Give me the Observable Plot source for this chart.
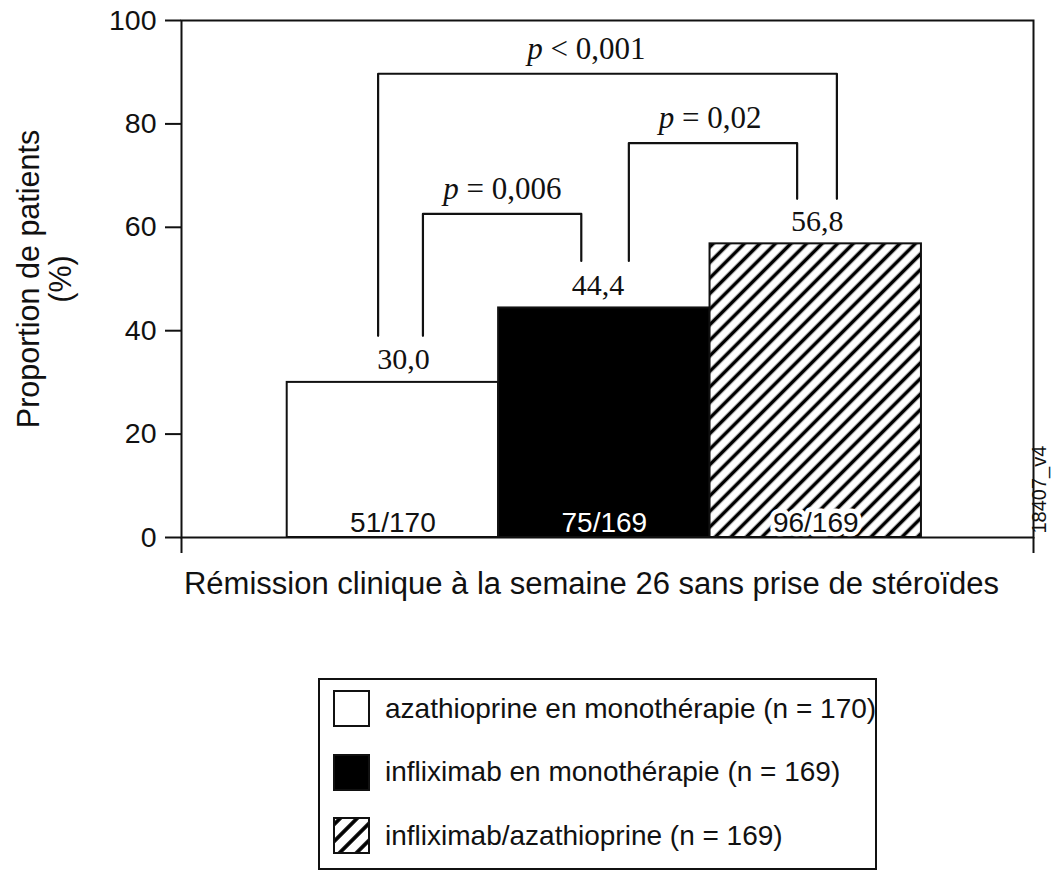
<!DOCTYPE html>
<html><head><meta charset="utf-8">
<script src="https://cdn.jsdelivr.net/npm/d3@7"></script>
<script src="https://cdn.jsdelivr.net/npm/@observablehq/plot@0.6"></script>
<style>
body{margin:0;background:#fff;font-family:"Liberation Sans",Arial,sans-serif;}
#wrap{position:relative;width:1052px;height:871px;overflow:hidden;}
#legend{position:absolute;left:318px;top:678px;width:559px;height:192px;border:2px solid #111;box-sizing:border-box;background:#fff;}
.row{position:absolute;left:13px;display:flex;align-items:center;height:37px;}
.row svg{width:37px;height:37px;flex:none;display:block}
.row span{margin-left:15px;font-size:28px;color:#111;white-space:nowrap;}
</style></head><body><div id="wrap"><div id="chart"></div><div id="legend"></div></div>
<script>
// ---- data ----
const categories = ["azathioprine en monothérapie (n = 170)", "infliximab en monothérapie (n = 169)", "infliximab/azathioprine (n = 169)"];
const values = [30.0, 44.4, 56.8];
const responders = [51, 75, 96];
const totals = [170, 169, 169];
const yTicks = [0, 20, 40, 60, 80, 100];
const pLabels = ["p < 0,001", "p = 0,02", "p = 0,006"];
const bracketLeft = [0.93, 2.116, 1.142];
const bracketRight = [3.10, 2.912, 1.891];
const bracketTop = [89.7, 76.3, 62.6];
const bracketLeftEnd = [39, 53.5, 39];
const bracketRightEnd = [65.5, 65.5, 53.5];
const pLabelX = [1.915, 2.50, 1.518];
const valueLabelX = [1.05, 1.97, 3.007];
const xTitle = "Rémission clinique à la semaine 26 sans prise de stéroïdes";
const yTitle = "Proportion de patients\n(%)";
const figId = "18407_v4";

// ---- styles ----
const sans = '"Liberation Sans", Arial, sans-serif';
const serif = '"Liberation Serif", "Times New Roman", serif';
const ink = "#111";
const barFills = ["white", "#000", "url(#hatch)"];
const countFills = [ink, "white", ink];
const xMax = 4.03;

const bars = categories.map((c, i) => ({
  i, cat: c, value: values[i],
  x1: i + 0.5, x2: i + 1.5, xc: i + 1,
  lx: valueLabelX[i],
  vlabel: values[i].toFixed(1).replace(".", ","),
  count: `${responders[i]}/${totals[i]}`
}));
const bracketPts = pLabels.flatMap((p, i) => [
  {id: i, x: bracketLeft[i], y: bracketLeftEnd[i]},
  {id: i, x: bracketLeft[i], y: bracketTop[i]},
  {id: i, x: bracketRight[i], y: bracketTop[i]},
  {id: i, x: bracketRight[i], y: bracketRightEnd[i]}
]);
const pData = pLabels.map((t, i) => ({t, x: pLabelX[i], y: bracketTop[i]}));

const barMarks = bars.flatMap((b) => [
  Plot.rectY([b], {x1: "x1", x2: "x2", y1: 0, y2: "value", fill: barFills[b.i], stroke: ink, strokeWidth: 2}),
  Plot.text([b], {x: "xc", y: 0, text: "count", lineAnchor: "bottom", dy: -6, fontSize: 28, fontFamily: sans,
    fill: countFills[b.i], ...(b.i === 2 ? {stroke: "white", strokeWidth: 9, paintOrder: "stroke"} : {})})
]);

const chart = Plot.plot({
  width: 1052, height: 640,
  marginLeft: 181, marginRight: 19, marginTop: 20, marginBottom: 103,
  x: {domain: [0, xMax]},
  y: {domain: [0, 100]},
  style: {fontFamily: sans, color: ink, background: "white"},
  marks: [
    ...barMarks,
    Plot.frame({stroke: ink, strokeWidth: 2}),
    Plot.axisY({ticks: yTicks, tickSize: 16, tickPadding: 9, fontSize: 28.5, strokeWidth: 2, label: null}),
    Plot.axisX({ticks: [0, xMax], tickSize: 16, tickFormat: () => "", strokeWidth: 2, label: null}),
    Plot.text(bars, {x: "lx", y: "value", text: "vlabel", lineAnchor: "bottom", dy: -13, fontSize: 30, fontFamily: serif}),
    Plot.line(bracketPts, {x: "x", y: "y", z: "id", stroke: ink, strokeWidth: 2.2}),
    Plot.text(pData, {x: "x", y: "y", text: "t", lineAnchor: "bottom", dy: -15, fontSize: 31, fontFamily: serif}),
    Plot.text([xTitle], {frameAnchor: "bottom", dx: -16, dy: 56, fontSize: 31, fontFamily: sans}),
    Plot.text([yTitle], {frameAnchor: "left", dx: -137, rotate: -90, textAnchor: "middle", lineAnchor: "middle", fontSize: 30.5, lineHeight: 1.05, fontFamily: sans}),
    Plot.text([figId], {frameAnchor: "bottom-right", dx: 12, dy: -4, rotate: -90, textAnchor: "start", fontSize: 20, fontFamily: sans})
  ]
});

// pattern defs
const defs = d3.select(chart).insert("defs", ":first-child");
const pat = defs.append("pattern").attr("id", "hatch").attr("patternUnits", "userSpaceOnUse")
  .attr("width", 11).attr("height", 11).attr("patternTransform", "rotate(45)");
pat.append("rect").attr("width", 11).attr("height", 11).attr("fill", "white");
pat.append("line").attr("x1", 5.5).attr("x2", 5.5).attr("y1", -1).attr("y2", 12).attr("stroke", "#000").attr("stroke-width", 3.6);

// italic "p" in p-value labels
d3.select(chart).selectAll("text").each(function() {
  const t = this.textContent;
  if (pLabels.includes(t)) {
    const s = d3.select(this);
    s.text("");
    s.append("tspan").attr("font-style", "italic").text(t[0]);
    s.append("tspan").text(t.slice(1));
  }
});
document.getElementById("chart").appendChild(chart);

// legend
const legend = d3.select("#legend");
categories.forEach((c, i) => {
  const row = legend.append("div").attr("class", "row").style("top", `${10 + i * 63.5}px`);
  const s = row.append("svg").attr("viewBox", "0 0 37 37");
  if (i === 2) {
    const p = s.append("defs").append("pattern").attr("id", "hatchSmall").attr("patternUnits", "userSpaceOnUse")
      .attr("width", 12).attr("height", 12).attr("patternTransform", "rotate(45)");
    p.append("rect").attr("width", 12).attr("height", 12).attr("fill", "white");
    p.append("line").attr("x1", 6).attr("x2", 6).attr("y1", -1).attr("y2", 13).attr("stroke", "#000").attr("stroke-width", 3.8);
  }
  s.append("rect").attr("x", 1).attr("y", 1).attr("width", 35).attr("height", 35)
    .attr("fill", i === 2 ? "url(#hatchSmall)" : barFills[i]).attr("stroke", ink).attr("stroke-width", 2);
  row.append("span").text(c);
});
</script>
</body></html>
